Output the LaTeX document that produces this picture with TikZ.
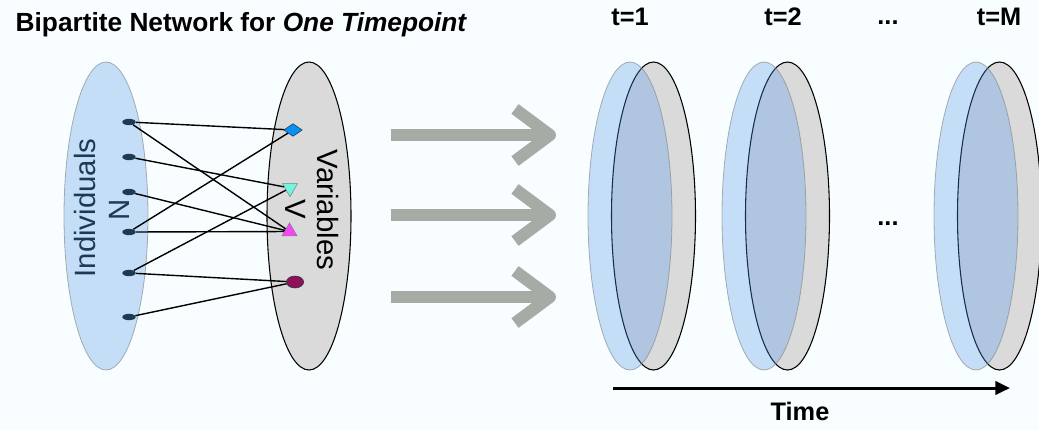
\documentclass[tikz,border=0pt]{standalone}
\usepackage{fontspec}
\setmainfont{Liberation Sans}
\usetikzlibrary{shapes.geometric,arrows.meta}
\definecolor{bgcol}{RGB}{248,254,255}
\definecolor{indblue}{RGB}{80,150,235}
\definecolor{vargray}{RGB}{218,218,218}
\definecolor{dotcol}{RGB}{28,58,82}
\definecolor{arrgray}{RGB}{165,171,165}
\definecolor{diamcol}{RGB}{10,144,240}
\definecolor{cyancol}{RGB}{112,245,225}
\definecolor{magcol}{RGB}{245,70,245}
\definecolor{marcol}{RGB}{144,16,85}
\tikzset{
  bigell/.style={ellipse, minimum width=63pt, minimum height=231pt, inner sep=0pt},
  indell/.style={bigell, fill=indblue, fill opacity=0.3, draw=black!45, draw opacity=0.7, line width=0.6pt},
  varell/.style={bigell, fill=vargray, draw=black, line width=0.8pt},
  indot/.style={ellipse, fill=dotcol, minimum width=10pt, minimum height=4.8pt, inner sep=0pt},
  link/.style={line width=1.05pt},
  bigarrow/.style={line width=9pt, color=arrgray},
  tlab/.style={anchor=base, font=\bfseries\fontsize{19}{22}\selectfont},
  setlab/.style={font=\fontsize{22}{26}\selectfont}
}

\begin{document}
\begin{tikzpicture}[x=0.75pt,y=-0.75pt]
  %%%%% START %%%%%
  \fill[bgcol] (0,0) rectangle (1039,430);
  \useasboundingbox (0,0) rectangle (1039,430);

  \node[anchor=base west, font=\bfseries\fontsize{19.7}{23}\selectfont] (title) at (11,31)
    {Bipartite Network for \textit{One Timepoint}};

  % bipartite network
  \node[indell] (ind) at (106,216) {};
  \node[varell] (var) at (309,216) {};
  \node[setlab, rotate=90, text=dotcol] (indlab) at (85,208) {Individuals};
  \node[setlab, rotate=90, text=dotcol] (nlab) at (119,210) {N};
  \node[setlab, rotate=-90] (varlab) at (328,210) {Variables};
  \node[setlab, rotate=-90] (vlab) at (296,209) {V};

  \foreach \y [count=\i] in {122,157,192,232,273,317}
    \node[indot] (i\i) at (129,\y) {};

  \node[diamond, fill=diamcol, draw=dotcol, line width=0.4pt, minimum width=14pt, minimum height=9.5pt, inner sep=0pt] (v1) at (293,130) {};
  \node[regular polygon, regular polygon sides=3, shape border rotate=180, fill=cyancol, draw=black!50, line width=0.4pt, minimum size=13pt, inner sep=0pt] (v2) at (290,188) {};
  \node[regular polygon, regular polygon sides=3, fill=magcol, draw=black!50, line width=0.4pt, minimum size=13pt, inner sep=0pt] (v3) at (289.5,231.5) {};
  \node[ellipse, fill=marcol, draw=dotcol, line width=0.4pt, minimum width=13pt, minimum height=9pt, inner sep=0pt] (v4) at (295,282) {};

  \draw[link] (i1) -- (v1);
  \draw[link] (i1) -- (v3);
  \draw[link] (i2) -- (v2);
  \draw[link] (i3) -- (v3);
  \draw[link] (i4) -- (v1);
  \draw[link] (i4) -- (v3);
  \draw[link] (i5) -- (v2);
  \draw[link] (i5) -- (v4);
  \draw[link] (i6) -- (v4);

  % grey arrows
  \foreach \ay in {135,215,297} {
    \draw[bigarrow] (391,\ay) -- (546,\ay);
    \draw[bigarrow, line join=round] (515,\ay-26) -- (550,\ay) -- (515,\ay+26);
  }

  % timepoints
  \foreach \bx/\nm in {630/1,764/2,976/M} {
    \node[varell] (var\nm) at (\bx+23.5,216) {};
    \node[indell] (ind\nm) at (\bx,216) {};
  }
  \node[tlab] (tone) at (630,25) {t=1};
  \node[tlab] (ttwo) at (783,25) {t=2};
  \node[tlab] (tdots) at (888,24.5) {...};
  \node[tlab] (tm) at (999,25) {t=M};
  \node[tlab] (mdots) at (888,225) {...};

  \coordinate (tstart) at (613,388);
  \coordinate (tend) at (1010,388);
  \draw[line width=2.25pt, -{Triangle[length=11pt,width=10pt]}] (tstart) -- (tend);
  \node[tlab] (time) at (800,420) {Time};
  %%%%% END %%%%%
\end{tikzpicture}
\end{document}
